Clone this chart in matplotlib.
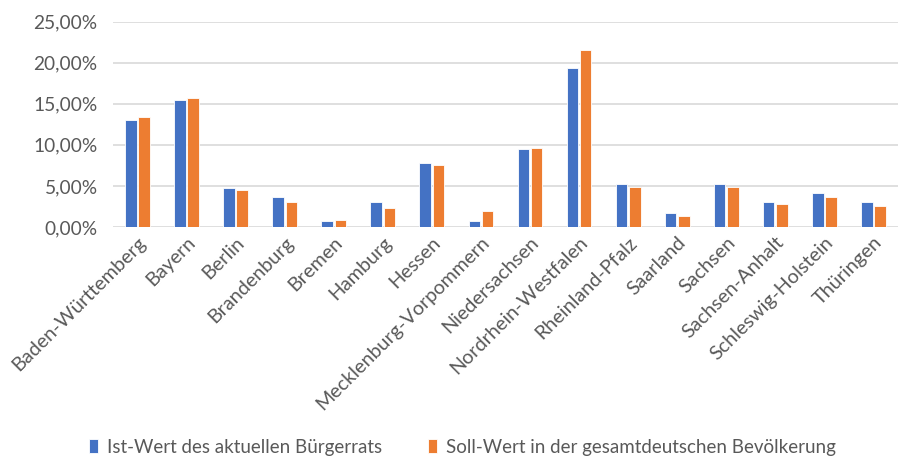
import matplotlib
matplotlib.use("Agg")
import matplotlib.pyplot as plt
import numpy as np
from matplotlib.ticker import FuncFormatter

plt.rcParams["font.family"] = ["Lato", "DejaVu Sans"]

# Data (percent)
states = ["Baden-Württemberg", "Bayern", "Berlin", "Brandenburg", "Bremen",
          "Hamburg", "Hessen", "Mecklenburg-Vorpommern", "Niedersachsen",
          "Nordrhein-Westfalen", "Rheinland-Pfalz", "Saarland", "Sachsen",
          "Sachsen-Anhalt", "Schleswig-Holstein", "Thüringen"]
ist = [13.0, 15.5, 4.8, 3.6, 0.7, 3.0, 7.75, 0.7, 9.45, 19.4, 5.25, 1.75,
       5.25, 3.0, 4.2, 3.0]
soll = [13.4, 15.7, 4.45, 3.0, 0.9, 2.35, 7.6, 1.95, 9.65, 21.5, 4.85, 1.3,
        4.85, 2.75, 3.6, 2.55]
series_labels = ["Ist-Wert des aktuellen Bürgerrats",
                 "Soll-Wert in der gesamtdeutschen Bevölkerung"]

BLUE = "#4472C4"
ORANGE = "#ED7D31"
TXT = "#595959"
GRID = "#d9d9d9"

fig = plt.figure(figsize=(8.98, 4.61), dpi=100)
ax = fig.add_axes([0.1258, 0.5076, 0.8742, 0.4454])

x = np.arange(len(states))
w = 0.235
ax.bar(x - 0.135, ist, width=w, color=BLUE, edgecolor="white", linewidth=0.6,
       label=series_labels[0], zorder=3)
ax.bar(x + 0.135, soll, width=w, color=ORANGE, edgecolor="white", linewidth=0.6,
       label=series_labels[1], zorder=3)

ax.set_xlim(-0.5, len(states) - 0.5)
ax.set_ylim(0, 25)
ax.set_yticks(np.arange(0, 26, 5))
ax.yaxis.set_major_formatter(FuncFormatter(lambda v, _: f"{v:.2f}%".replace(".", ",")))
ax.grid(axis="y", color=GRID, linewidth=1.2, zorder=0)
for s in ax.spines.values():
    s.set_visible(False)
ax.tick_params(axis="y", length=0, pad=11, labelsize=13.8, labelcolor=TXT)
ax.tick_params(axis="x", length=0, pad=5, labelsize=14.2, labelcolor=TXT)

ax.set_xticks(x)
ax.set_xticklabels(states, rotation=45, ha="right", rotation_mode="anchor")

leg = fig.legend(loc="center", bbox_to_anchor=(0.515, 0.03), ncol=2, frameon=False,
                 fontsize=13.5, handlelength=0.5, handleheight=0.8,
                 columnspacing=2.4, handletextpad=0.5)
for t in leg.get_texts():
    t.set_color(TXT)

fig.savefig("out.png", dpi=100)
